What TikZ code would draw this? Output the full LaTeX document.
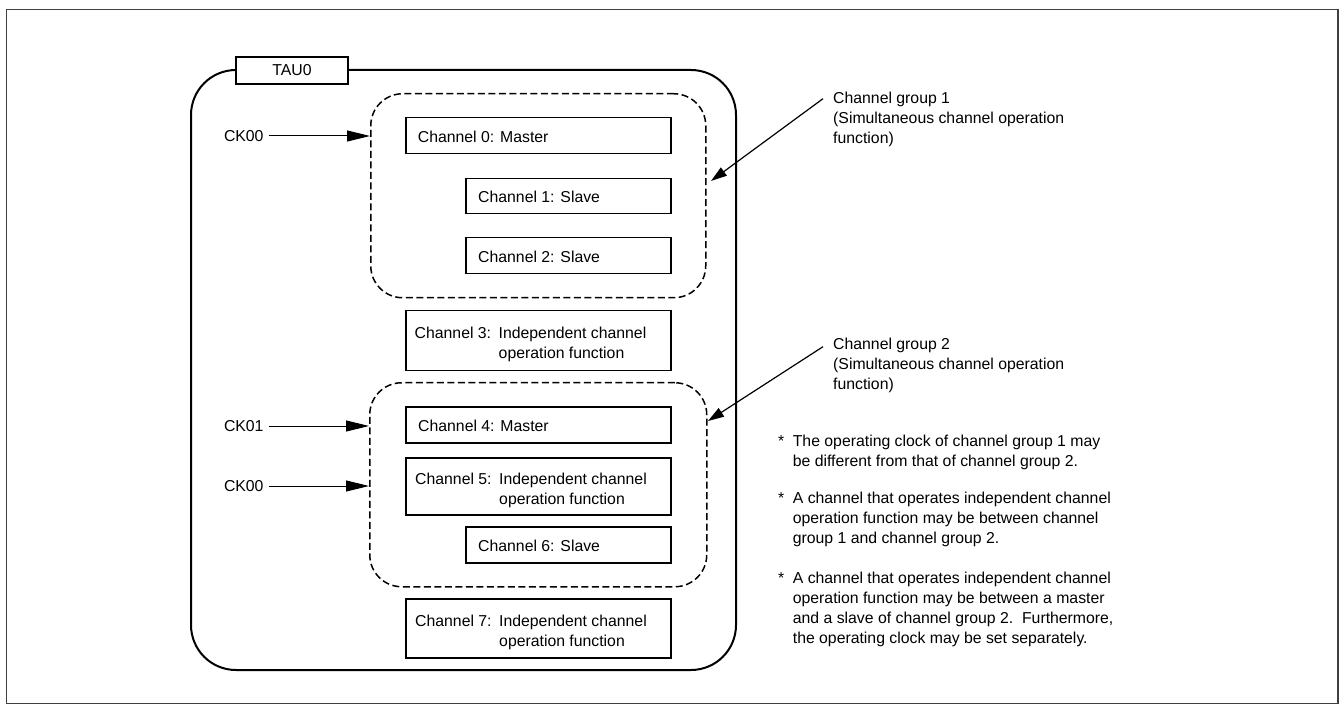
\documentclass[tikz,border=0pt]{standalone}
\usepackage{fontspec}
\setmainfont{Liberation Sans}
\usetikzlibrary{arrows.meta}
\begin{document}
\begin{tikzpicture}[x=1pt,y=-1pt,
  every node/.style={font=\fontsize{15.8}{20}\selectfont, inner sep=0pt},
  chbox/.style={draw, line width=1.5pt, anchor=north west, minimum height=36pt},
  chtxt/.style={anchor=west, align=left},
  grp/.style={draw, line width=1.5pt, dash pattern=on 7pt off 3.5pt, rounded corners=32pt, anchor=north west},
  cklab/.style={anchor=west, outer xsep=5pt},
  ckarr/.style={line width=1pt, -{Triangle[length=23pt,width=11pt]}},
  grparr/.style={line width=1.2pt, -{Triangle[length=16pt,width=10pt]}},
  note/.style={anchor=north west, align=left}
]
\useasboundingbox (0,0) rectangle (1341,708);
% outer frame
\draw[black!75, line width=1.4pt] (6.5,9.5) rectangle (1338,703.5);

% TAU0 block
\node[draw, line width=2pt, rounded corners=45pt, anchor=north west,
      minimum width=545pt, minimum height=600pt] (tau) at (190,69) {};
\node[draw, fill=white, line width=1.5pt, minimum width=112pt, minimum height=27pt] (taul) at (292,70.5) {TAU0};

% groups
\node[grp, minimum width=335pt, minimum height=204pt] (grp1) at (370,93) {};
\node[grp, minimum width=337pt, minimum height=204pt] (grp2) at (369,382) {};

% channel boxes
\node[chbox, minimum width=265pt] (c0) at (405,117) {};
\node[chtxt] (t0) at ([xshift=12.7pt,yshift=-1pt]c0.west) {Channel 0: Master};

\node[chbox, minimum width=205pt, minimum height=35pt] (c1) at (465,178) {};
\node[chtxt] (t1) at ([xshift=13pt,yshift=-1pt]c1.west) {Channel 1: Slave};

\node[chbox, minimum width=205pt] (c2) at (465,237) {};
\node[chtxt] (t2) at ([xshift=13pt,yshift=-1pt]c2.west) {Channel 2: Slave};

\node[chbox, minimum width=265pt, minimum height=60pt] (c3) at (405,310) {};
\node[chtxt] (t3) at ([xshift=9.5pt,yshift=-4pt]c3.west)
  {\begin{tabular}{@{}l@{\hspace{7.6pt}}l@{}}Channel 3:&Independent channel\\&operation function\end{tabular}};

\node[chbox, minimum width=265pt] (c4) at (405,406) {};
\node[chtxt] (t4) at ([xshift=13pt,yshift=-1pt]c4.west) {Channel 4: Master};

\node[chbox, minimum width=265pt, minimum height=57pt] (c5) at (405,457) {};
\node[chtxt] (t5) at ([xshift=10pt,yshift=-4pt]c5.west)
  {\begin{tabular}{@{}l@{\hspace{7.6pt}}l@{}}Channel 5:&Independent channel\\&operation function\end{tabular}};

\node[chbox, minimum width=205pt] (c6) at (465,526) {};
\node[chtxt] (t6) at ([xshift=13pt,yshift=-1pt]c6.west) {Channel 6: Slave};

\node[chbox, minimum width=265pt, minimum height=59pt] (c7) at (405,598) {};
\node[chtxt] (t7) at ([xshift=10pt,yshift=-4pt]c7.west)
  {\begin{tabular}{@{}l@{\hspace{7.6pt}}l@{}}Channel 7:&Independent channel\\&operation function\end{tabular}};

% clock inputs
\node[cklab] (ck0) at (219,136) {CK00};
\coordinate (ck0t) at (370,136);
\draw[ckarr] (ck0) -- (ck0t);

\node[cklab] (ck1) at (219,426) {CK01};
\coordinate (ck1t) at (369,426);
\draw[ckarr] (ck1) -- (ck1t);

\node[cklab] (ck2) at (219,486) {CK00};
\coordinate (ck2t) at (369,486);
\draw[ckarr] (ck2) -- (ck2t);

% group labels
\node[note] (g1) at (833,89.7)
  {\begin{tabular}{@{}l@{}}Channel group 1\\(Simultaneous channel operation\\function)\end{tabular}};
\coordinate (g1t) at (711,181);
\draw[grparr] ([shift={(-10,9)}]g1.north west) -- (g1t);

\node[note] (g2) at (833,335.7)
  {\begin{tabular}{@{}l@{}}Channel group 2\\(Simultaneous channel operation\\function)\end{tabular}};
\coordinate (g2t) at (708,421);
\draw[grparr] ([shift={(-10,11)}]g2.north west) -- (g2t);

% notes
\node[note] (n1) at (778,432.7)
  {\begin{tabular}{@{}l@{\hspace{8.5pt}}l@{}}*&The operating clock of channel group 1 may\\&be different from that of channel group 2.\end{tabular}};
\node[note] (n2) at (778,489.2)
  {\begin{tabular}{@{}l@{\hspace{8.5pt}}l@{}}*&A channel that operates independent channel\\&operation function may be between channel\\&group 1 and channel group 2.\end{tabular}};
\node[note] (n3) at (778,569.2)
  {\begin{tabular}{@{}l@{\hspace{8.5pt}}l@{}}*&A channel that operates independent channel\\&operation function may be between a master\\&and a slave of channel group 2.\ \ Furthermore,\\&the operating clock may be set separately.\end{tabular}};
\end{tikzpicture}
\end{document}
